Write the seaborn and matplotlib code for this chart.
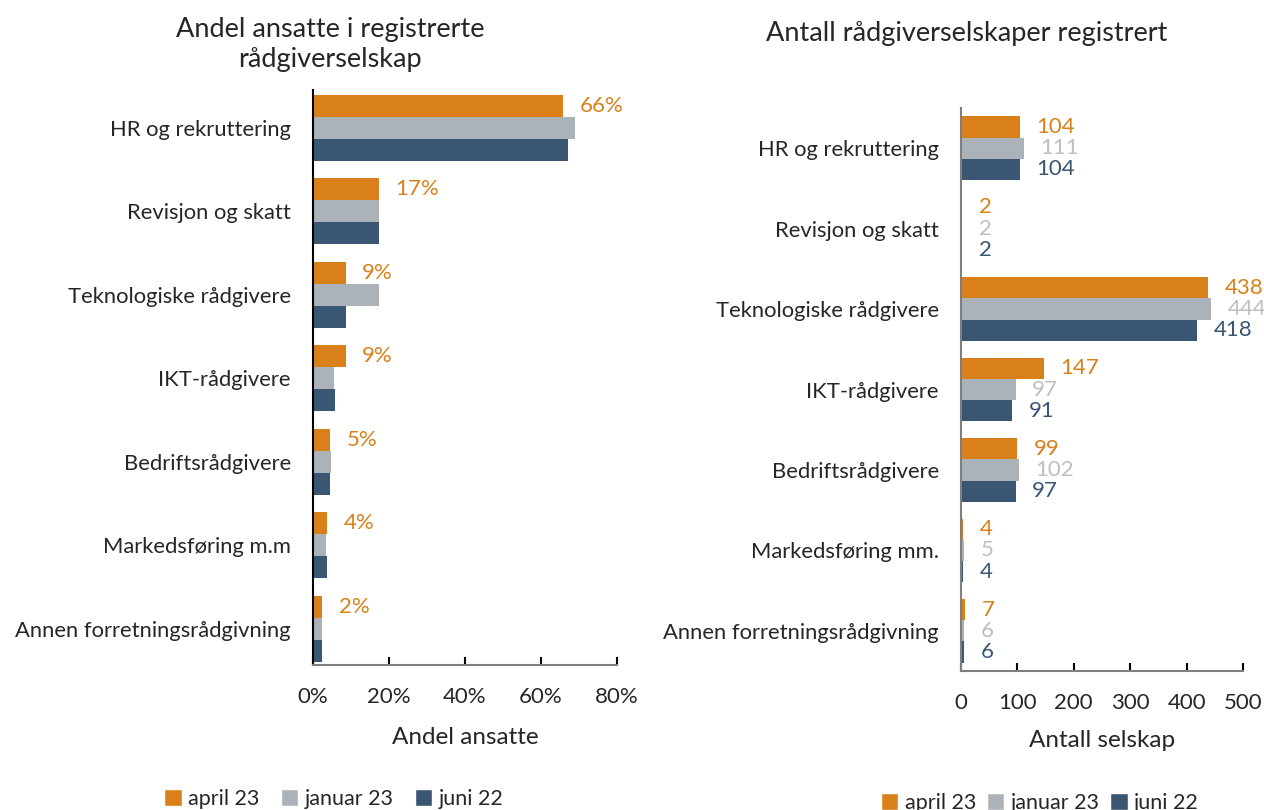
import pandas as pd
import matplotlib.pyplot as plt
import seaborn as sns
from matplotlib.patches import Patch
from matplotlib.ticker import PercentFormatter

kategorier_andel = ["HR og rekruttering", "Revisjon og skatt", "Teknologiske rådgivere",
                    "IKT-rådgivere", "Bedriftsrådgivere", "Markedsføring m.m",
                    "Annen forretningsrådgivning"]
kategorier_antall = ["HR og rekruttering", "Revisjon og skatt", "Teknologiske rådgivere",
                     "IKT-rådgivere", "Bedriftsrådgivere", "Markedsføring mm.",
                     "Annen forretningsrådgivning"]
perioder = ["april 23", "januar 23", "juni 22"]

# andel ansatte (%)
andel_april23 = [65.9, 17.3, 8.6, 8.6, 4.6, 3.6, 2.4]
andel_januar23 = [68.9, 17.4, 17.4, 5.5, 4.7, 3.5, 2.3]
andel_juni22 = [67.1, 17.4, 8.7, 5.8, 4.5, 3.6, 2.3]

# antall selskap
antall_april23 = [104, 2, 438, 147, 99, 4, 7]
antall_januar23 = [111, 2, 444, 97, 102, 5, 6]
antall_juni22 = [104, 2, 418, 91, 97, 4, 6]

farger = ["#D9801A", "#ABB2B9", "#3A5673"]
tekstfarger = ["#D9801A", "#BFBFBF", "#3A5673"]


def long_df(kategorier, serier):
    rows = []
    for periode, verdier in zip(perioder, serier):
        for kat, v in zip(kategorier, verdier):
            rows.append({"kategori": kat, "periode": periode, "verdi": v})
    return pd.DataFrame(rows)


sns.set_theme(style="white")
plt.rcParams["font.family"] = ["Lato", "DejaVu Sans"]

fig = plt.figure(figsize=(12.64, 8.10), dpi=100)
W, H = 1264, 810

def add_ax(x0, x1, y0, y1):
    return fig.add_axes([x0 / W, 1 - y1 / H, (x1 - x0) / W, (y1 - y0) / H])

# ---- venstre: andel ansatte ----
ax1 = add_ax(313, 617, 90, 665)
df1 = long_df(kategorier_andel, [andel_april23, andel_januar23, andel_juni22])
sns.barplot(data=df1, y="kategori", x="verdi", hue="periode", palette=farger,
            saturation=1, orient="h", width=0.79, linewidth=0, ax=ax1, legend=False)
ax1.set_xlim(0, 80)
ax1.set_ylim(6.43, -0.45)
ax1.xaxis.set_major_formatter(PercentFormatter(decimals=0))
ax1.set_xticks([0, 20, 40, 60, 80])
ax1.set_ylabel("")
ax1.set_xlabel("Andel ansatte", fontsize=17.5, labelpad=14)
ax1.bar_label(ax1.containers[0], labels=[f"{round(v)}%" for v in andel_april23],
              padding=12, color=tekstfarger[0], fontsize=16)

# ---- høyre: antall selskap ----
ax2 = add_ax(961, 1243, 108, 671)
df2 = long_df(kategorier_antall, [antall_april23, antall_januar23, antall_juni22])
sns.barplot(data=df2, y="kategori", x="verdi", hue="periode", palette=farger,
            saturation=1, orient="h", width=0.79, linewidth=0, ax=ax2, legend=False)
ax2.set_xlim(0, 500)
ax2.set_ylim(6.5, -0.5)
ax2.set_xticks([0, 100, 200, 300, 400, 500])
ax2.set_ylabel("")
ax2.set_xlabel("Antall selskap", fontsize=17.5, labelpad=12)
for i, cont in enumerate(ax2.containers):
    ax2.bar_label(cont, padding=12, color=tekstfarger[i], fontsize=16)

for ax, left_col in [(ax1, "black"), (ax2, "#7F7F7F")]:
    for side in ["top", "right"]:
        ax.spines[side].set_visible(False)
    ax.spines["left"].set_color(left_col)
    ax.spines["left"].set_linewidth(1.5)
    ax.spines["bottom"].set_color("#7F7F7F")
    ax.spines["bottom"].set_linewidth(1.5)
    ax.tick_params(axis="x", direction="in", length=6, width=1.5, color="black",
                   bottom=True, pad=16, labelsize=16)
    ax.tick_params(axis="y", length=0, pad=16, labelsize=15.8)
    ax.grid(False)

fig.text(330 / W, 1 - 45 / H, "Andel ansatte i registrerte\nrådgiverselskap",
         ha="center", va="center", fontsize=19.5, linespacing=1.25)
fig.text(967 / W, 1 - 33 / H, "Antall rådgiverselskaper registrert",
         ha="center", va="center", fontsize=19.5)

handles = [Patch(facecolor=c, label=p) for c, p in zip(farger, perioder)]
fig.legend(handles=handles, loc="center", bbox_to_anchor=(334 / W, 1 - 799 / H),
           ncol=3, frameon=False, fontsize=15.5, handlelength=0.8, handleheight=0.8,
           handletextpad=0.3, columnspacing=1.0)
fig.legend(handles=handles, loc="center", bbox_to_anchor=(1040 / W, 1 - 803 / H),
           ncol=3, frameon=False, fontsize=15.5, handlelength=0.8, handleheight=0.8,
           handletextpad=0.3, columnspacing=0.5)

fig.savefig("out.png", dpi=100)
